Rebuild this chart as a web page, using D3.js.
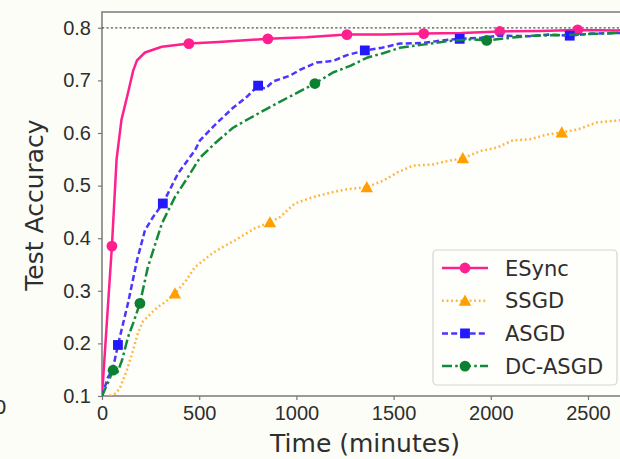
<!DOCTYPE html>
<html>
<head>
<meta charset="utf-8">
<script src="https://cdn.jsdelivr.net/npm/d3@7"></script>
<style>
  html, body { margin: 0; padding: 0; background: #fdfdf7; overflow: hidden; }
  svg { display: block; font-family: "DejaVu Sans", sans-serif; }
</style>
</head>
<body>
<svg id="chart" width="620" height="459"></svg>
<script>
// Test accuracy over wall-clock time for four training schemes
const esyncT = [0, 25, 51, 75, 100, 133, 160, 180, 221, 308, 447, 600, 853, 1050, 1260, 1450, 1655, 1850, 2046, 2250, 2447, 2650, 2760];
const esyncV = [0.1, 0.24, 0.385, 0.55, 0.625, 0.675, 0.718, 0.738, 0.753, 0.764, 0.770, 0.773, 0.779, 0.782, 0.787, 0.787, 0.789, 0.790, 0.793, 0.794, 0.796, 0.795, 0.796];
const esyncMarks = [51, 447, 853, 1260, 1655, 2046, 2447];

const ssgdT = [40, 70, 92, 128, 160, 185, 211, 283, 330, 375, 430, 478, 566, 620, 684, 787, 864, 915, 992, 1085, 1180, 1260, 1362, 1450, 1520, 1600, 1700, 1780, 1856, 1950, 2030, 2113, 2200, 2290, 2365, 2450, 2545, 2663, 2760];
const ssgdV = [0.1, 0.105, 0.115, 0.149, 0.187, 0.22, 0.242, 0.268, 0.28, 0.295, 0.318, 0.345, 0.371, 0.383, 0.396, 0.419, 0.43, 0.44, 0.466, 0.478, 0.487, 0.493, 0.497, 0.51, 0.525, 0.538, 0.54, 0.547, 0.552, 0.566, 0.572, 0.586, 0.588, 0.597, 0.601, 0.607, 0.62, 0.624, 0.628];
const ssgdMarks = [375, 864, 1362, 1856, 2365];

const asgdT = [0, 31, 55, 82, 134, 180, 221, 262, 313, 391, 478, 504, 580, 674, 740, 803, 840, 880, 967, 1018, 1104, 1188, 1260, 1352, 1440, 1532, 1650, 1750, 1840, 1950, 2046, 2200, 2300, 2406, 2520, 2648, 2760];
const asgdV = [0.1, 0.136, 0.15, 0.197, 0.277, 0.358, 0.415, 0.44, 0.466, 0.523, 0.567, 0.586, 0.615, 0.648, 0.667, 0.69, 0.684, 0.698, 0.709, 0.72, 0.734, 0.737, 0.748, 0.757, 0.762, 0.77, 0.771, 0.776, 0.779, 0.781, 0.785, 0.784, 0.787, 0.785, 0.789, 0.79, 0.79];
const asgdMarks = [82, 313, 803, 1352, 1840, 2406];

const dcT = [0, 30, 57, 80, 103, 134, 160, 195, 236, 308, 375, 440, 504, 580, 674, 760, 848, 960, 1095, 1188, 1280, 1362, 1450, 1532, 1650, 1789, 1900, 1979, 2100, 2216, 2350, 2500, 2648, 2760];
const dcV = [0.1, 0.125, 0.149, 0.145, 0.168, 0.212, 0.238, 0.276, 0.345, 0.428, 0.478, 0.515, 0.553, 0.58, 0.61, 0.628, 0.646, 0.668, 0.694, 0.715, 0.728, 0.743, 0.752, 0.762, 0.768, 0.775, 0.778, 0.776, 0.781, 0.785, 0.786, 0.788, 0.79, 0.79];
const dcMarks = [57, 195, 1095, 1979];

const yTicks = [0.1, 0.2, 0.3, 0.4, 0.5, 0.6, 0.7, 0.8];
const xTicks = [0, 500, 1000, 1500, 2000, 2500];
const bestAccuracy = 0.8;

const series = [
  { name: "ESync",   t: esyncT, v: esyncV, marks: esyncMarks, color: "#ff1f8e", mcolor: "#ff1f8e", dash: null,          marker: "circle" },
  { name: "SSGD",    t: ssgdT,  v: ssgdV,  marks: ssgdMarks,  color: "#ffb43c", mcolor: "#ffa000", dash: "1.8,2.8",    marker: "triangle" },
  { name: "ASGD",    t: asgdT,  v: asgdV,  marks: asgdMarks,  color: "#4b35ff", mcolor: "#2418ff", dash: "6,3.2",      marker: "square" },
  { name: "DC-ASGD", t: dcT,    v: dcV,    marks: dcMarks,    color: "#138a3a", mcolor: "#0c8032", dash: "10,3.2,2.6,3.2",  marker: "circle" }
];

const svg = d3.select("#chart");
const plotLeft = 102, plotTop = 12, plotBottom = 396;

const x = d3.scaleLinear().domain([0, 2770]).range([plotLeft, plotLeft + 2770 * 0.1944]);
const y = d3.scaleLinear().domain([0.1, 0.83]).range([plotBottom, plotTop]);

svg.append("defs").append("clipPath").attr("id", "plotclip")
  .append("rect").attr("x", plotLeft).attr("y", plotTop)
  .attr("width", x.range()[1] - plotLeft).attr("height", plotBottom - plotTop);

// plot frame
svg.append("rect").attr("x", plotLeft).attr("y", plotTop)
  .attr("width", x.range()[1] - plotLeft).attr("height", plotBottom - plotTop)
  .attr("fill", "#fefefb").attr("stroke", "#909090").attr("stroke-width", 1.8);

// axes
const xAxis = svg.append("g").attr("transform", `translate(0,${plotBottom})`)
  .call(d3.axisBottom(x).tickValues(xTicks).tickFormat(d3.format("d")).tickSize(4).tickPadding(6));
const yAxis = svg.append("g").attr("transform", `translate(${plotLeft},0)`)
  .call(d3.axisLeft(y).tickValues(yTicks).tickFormat(d3.format(".1f")).tickSize(4).tickPadding(7));
[xAxis, yAxis].forEach(g => {
  g.select(".domain").remove();
  g.selectAll(".tick line").attr("stroke", "#777").attr("stroke-width", 1.2);
  g.selectAll(".tick text").attr("fill", "#2e2e2e").style("font-size", "20px");
});

// reference line at the best accuracy
svg.append("line")
  .attr("x1", plotLeft).attr("x2", x.range()[1])
  .attr("y1", y(bestAccuracy)).attr("y2", y(bestAccuracy))
  .attr("stroke", "#555").attr("stroke-width", 1.3).attr("stroke-dasharray", "2.2,2.2");

const plot = svg.append("g").attr("clip-path", "url(#plotclip)");
const line = d3.line().x(d => x(d[0])).y(d => y(d[1]));

function drawMarker(g, kind, cx, cy, color) {
  if (kind === "circle") {
    g.append("circle").attr("cx", cx).attr("cy", cy).attr("r", 5.4).attr("fill", color);
  } else if (kind === "square") {
    const h = 4.9;
    g.append("rect").attr("x", cx - h).attr("y", cy - h).attr("width", 2 * h).attr("height", 2 * h).attr("fill", color);
  } else {
    const h = 6.2;
    g.append("path").attr("d", `M${cx},${cy - h}L${cx + h},${cy + h * 0.8}L${cx - h},${cy + h * 0.8}Z`).attr("fill", color);
  }
}

series.forEach(s => {
  const pts = s.t.map((t, i) => [t, s.v[i]]);
  const p = plot.append("path").datum(pts).attr("d", line)
    .attr("fill", "none").attr("stroke", s.color).attr("stroke-width", 2.5)
    .attr("stroke-linejoin", "round");
  if (s.dash) p.attr("stroke-dasharray", s.dash);
  pts.filter(d => s.marks.includes(d[0])).forEach(d => drawMarker(plot, s.marker, x(d[0]), y(d[1]), s.mcolor));
});

// axis titles
svg.append("text").attr("x", 365).attr("y", 452).attr("text-anchor", "middle")
  .attr("fill", "#2e2e2e").style("font-size", "25px").text("Time (minutes)");
svg.append("text").attr("transform", "translate(43,205) rotate(-90)").attr("text-anchor", "middle")
  .attr("fill", "#2e2e2e").style("font-size", "25px").text("Test Accuracy");

// stray tick label of the neighbouring panel
svg.append("text").attr("x", -6).attr("y", 414).attr("fill", "#2e2e2e").style("font-size", "20px").text("0");

// legend
const lg = svg.append("g");
lg.append("rect").attr("x", 433).attr("y", 250).attr("width", 184).attr("height", 135).attr("rx", 4)
  .attr("fill", "#fefefb").attr("fill-opacity", 0.9).attr("stroke", "#d4d4d4").attr("stroke-width", 1.2);
series.forEach((s, i) => {
  const yy = 268 + i * 32.7;
  const l = lg.append("line").attr("x1", 442).attr("x2", 488).attr("y1", yy).attr("y2", yy)
    .attr("stroke", s.color).attr("stroke-width", 2.5);
  if (s.dash) l.attr("stroke-dasharray", s.dash);
  drawMarker(lg, s.marker, 465, yy, s.mcolor);
  lg.append("text").attr("x", 505).attr("y", yy).attr("dy", "0.36em")
    .attr("fill", "#2e2e2e").style("font-size", "21px").text(s.name);
});
</script>
</body>
</html>
